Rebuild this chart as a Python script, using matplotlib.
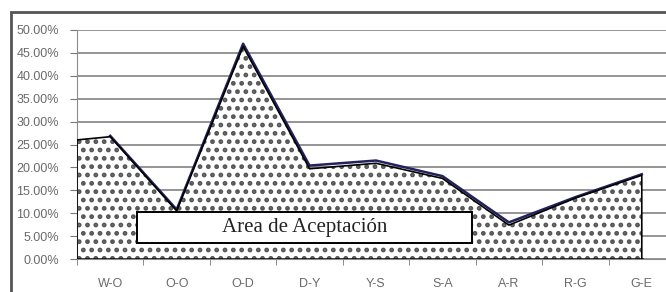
import matplotlib
import numpy as np
from matplotlib import pyplot as plt
from matplotlib.patches import Rectangle

matplotlib.rcParams['hatch.linewidth'] = 2.2

categories = ['W-O', 'O-O', 'O-D', 'D-Y', 'Y-S', 'S-A', 'A-R', 'R-G', 'G-E']
area_start = 26.0  # value at the left edge of the plot
area_values = [26.7, 10.5, 46.4, 19.7, 20.9, 17.6, 7.4, 13.3, 18.3]
line_values = [26.9, 10.8, 47.0, 20.4, 21.5, 18.1, 8.0, 13.5, 18.5]
yticks = [0, 5, 10, 15, 20, 25, 30, 35, 40, 45, 50]
box_label = 'Area de Aceptación'

W, H = 666, 292
fig = plt.figure(figsize=(W / 100, H / 100), dpi=100)
ax = fig.add_axes([77 / W, 33 / H, 598 / W, 229 / H])

x = np.arange(len(categories))
area_x = np.concatenate([[-0.5], x])
area_y = np.concatenate([[area_start], area_values])

ax.fill_between(area_x, 0, area_y, facecolor='white', edgecolor='#555555',
                hatch='..', linewidth=0, zorder=2)
ax.plot(x, line_values, color='#22225e', lw=1.8, zorder=3)
# outline of the area
ox = np.concatenate([[area_x[0]], area_x, [area_x[-1]]])
oy = np.concatenate([[0], area_y, [0]])
ax.plot(ox, oy, color='black', lw=1.2, zorder=4)
ax.plot([area_x[0], area_x[-1]], [0, 0], color='black', lw=1.8, zorder=4)

ax.set_xlim(-0.5, 8.5)
ax.set_ylim(0, 50)
ax.set_yticks(yticks)
ax.set_yticklabels([f'{v:.2f}%' for v in yticks])
ax.set_xticks(x)
ax.set_xticklabels(categories)
ax.set_xticks(np.arange(-0.5, 9, 1), minor=True)
ax.tick_params(axis='x', which='major', length=0, pad=14)
ax.tick_params(axis='x', which='minor', length=4, color='#777777', direction='out')
ax.tick_params(axis='y', length=5, color='#777777', pad=8)
for lab in ax.get_xticklabels() + ax.get_yticklabels():
    lab.set_color('#6a6a6a')
    lab.set_fontsize(9)
    lab.set_family('Liberation Sans')

ax.yaxis.grid(True, color='#8c8c8c', lw=1.3)
ax.set_axisbelow(True)
for s in ['top', 'right']:
    ax.spines[s].set_visible(False)
ax.spines['left'].set_color('#8c8c8c')
ax.spines['bottom'].set_color('#8c8c8c')

# label box
ax.add_patch(Rectangle((0.40, 3.5), 5.05, 6.8, facecolor='white', edgecolor='black',
                       lw=1.4, zorder=5))
ax.text(0.40 + 5.05 / 2, 3.5 + 3.4, box_label, ha='center', va='center',
        family='Liberation Serif', fontsize=15, color='#222222', zorder=6)

# outer chart frame
fig.add_artist(Rectangle((11 / W, -0.1), 2, (H - 12) / H + 0.1, transform=fig.transFigure,
                         fill=False, edgecolor='#555555', lw=2, clip_on=False))

plt.savefig('out.png', dpi=100)
